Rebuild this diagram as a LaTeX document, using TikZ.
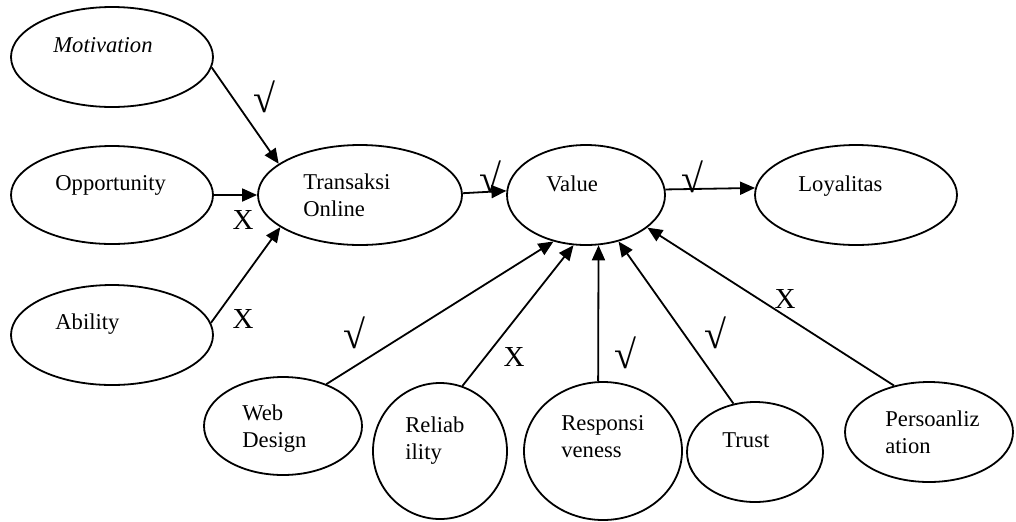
\documentclass[tikz,border=0pt]{standalone}
\usepackage{fontspec}
\setmainfont{Liberation Serif}
\usetikzlibrary{shapes.geometric,arrows.meta}
\definecolor{ink}{HTML}{000000}
\newcommand{\txtfont}{\fontsize{11.3}{13.6}\selectfont}
\newcommand{\cek}{√}

\tikzset{
  oval/.style={draw=ink,ellipse,line width=0.9pt,inner sep=0pt},
  txt/.style={anchor=north west,inner sep=0pt,align=left,font=\txtfont,text=ink},
  link/.style={draw=ink,line width=0.9pt,-{Triangle[length=7.5pt,width=6.5pt]}},
  sig/.style={inner sep=0pt,font=\fontsize{20}{22}\selectfont,text=ink},
  nonsig/.style={inner sep=0pt,font=\fontsize{14.5}{17}\selectfont,text=ink}
}

\begin{document}
\begin{tikzpicture}[x=0.5pt,y=-0.5pt]
  \useasboundingbox (0,0) rectangle (1016,521);

  % --- Elips ---
  \node[oval,minimum width=101pt,minimum height=50pt] (mot) at (112,57) {};
  \node[oval,minimum width=101pt,minimum height=49pt] (opp) at (112,195) {};
  \node[oval,minimum width=101pt,minimum height=50pt] (abi) at (112,335) {};
  \node[oval,minimum width=102pt,minimum height=50pt] (tra) at (360,195) {};
  \node[oval,minimum width=79pt,minimum height=50pt] (val) at (586,195) {};
  \node[oval,minimum width=101pt,minimum height=50pt] (loy) at (856,195) {};
  \node[oval,minimum width=79pt,minimum height=49pt] (web) at (283,426) {};
  \node[oval,minimum width=67pt,minimum height=68pt] (rel) at (440,451) {};
  \node[oval,minimum width=79pt,minimum height=69pt] (res) at (603,451) {};
  \node[oval,minimum width=68pt,minimum height=50pt] (tru) at (755,452) {};
  \node[oval,minimum width=84pt,minimum height=50pt] (per) at (929,432) {};

  % --- Teks di dalam elips ---
  \node[txt,font=\txtfont\itshape] (motT) at (53,37) {Motivation};
  \node[txt] (oppT) at (55,175) {Opportunity};
  \node[txt] (abiT) at (55,313) {Ability};
  \node[txt] (traT) at (303,173) {Transaksi\\Online};
  \node[txt] (valT) at (546,175) {Value};
  \node[txt] (loyT) at (798,175) {Loyalitas};
  \node[txt] (webT) at (242,404) {Web\\Design};
  \node[txt] (relT) at (405,416) {Reliab\\ility};
  \node[txt] (resT) at (561,415) {Responsi\\veness};
  \node[txt] (truT) at (722,432) {Trust};
  \node[txt] (perT) at (885,410) {Persoanliz\\ation};

  % --- Panah ---
  \draw[link] (mot.-6) -- (tra.159);
  \draw[link] (opp.east) -- (tra.west);
  \draw[link] (abi.7) -- (tra.202);
  \draw[link] (tra.1.7) -- (val.177.8);
  \draw[link] (val.4.4) -- (loy.176.6);
  \draw[link] (web.44) -- (val.235);
  \draw[link] (rel.71) -- (val.256);
  \draw[link] (res.94) -- (val.-76);
  \draw[link] (tru.114) -- (val.-55);
  \draw[link] (per.127) -- (val.-28);

  % --- Tanda hasil uji ---
  \node[sig] (s1) at (264,97) {\cek};
  \node[sig] (s2) at (490,177) {\cek};
  \node[sig] (s3) at (692,177) {\cek};
  \node[sig] (s4) at (354,333) {\cek};
  \node[sig] (s5) at (625,353) {\cek};
  \node[sig] (s6) at (715,333) {\cek};
  \node[nonsig] (x1) at (243,220) {X};
  \node[nonsig] (x2) at (243,319) {X};
  \node[nonsig] (x3) at (514,357) {X};
  \node[nonsig] (x4) at (785,299) {X};
\end{tikzpicture}
\end{document}
